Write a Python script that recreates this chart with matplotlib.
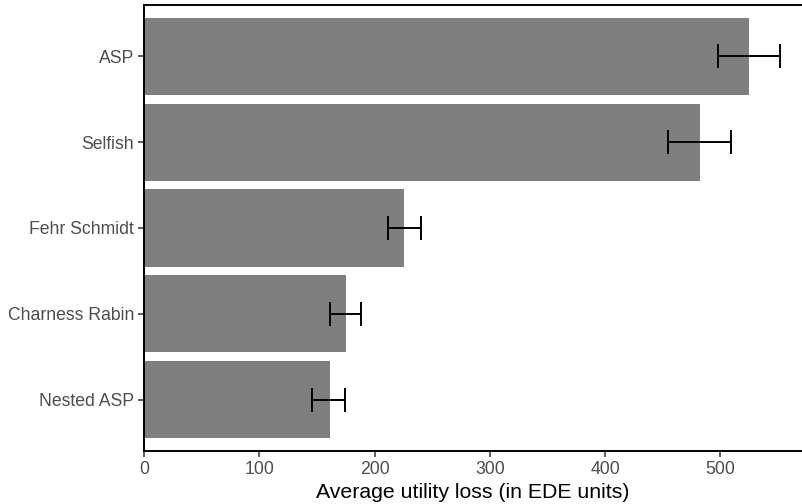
import matplotlib.pyplot as plt
import numpy as np

plt.rcParams['font.family'] = ['Liberation Sans', 'DejaVu Sans']

# models listed bottom to top
models = ['Nested ASP', 'Charness Rabin', 'Fehr Schmidt', 'Selfish', 'ASP']
mean_loss = [161, 175.5, 226, 482.5, 525]
err_low = [146, 161, 211.5, 455, 498]
err_high = [174.5, 188.5, 240, 509.5, 551.5]

fig = plt.figure(figsize=(8.02, 5.04), dpi=100)
ax = fig.add_axes([144/802, (504-451)/504, (801-144)/802, (451-5)/504])

y = np.arange(1, len(models)+1)
ax.barh(y, mean_loss, height=0.9, color='#7F7F7F', zorder=1)

lo = np.array(mean_loss) - np.array(err_low)
hi = np.array(err_high) - np.array(mean_loss)
ax.errorbar(mean_loss, y, xerr=[lo, hi], fmt='none', ecolor='black',
            elinewidth=1.4, capsize=8.3, capthick=1.4, zorder=2)

ax.set_xlim(0, 570)
ax.set_ylim(0.4, 5.6)
ax.set_yticks(y)
ax.set_yticklabels(models)
ax.set_xticks([0, 100, 200, 300, 400, 500])

ax.spines['right'].set_visible(False)
for s in ['left', 'bottom', 'top']:
    ax.spines[s].set_linewidth(1.4)
    ax.spines[s].set_color('black')

ax.tick_params(axis='both', length=4, width=1.1, color='#333333',
               labelcolor='#4D4D4D', labelsize=12.7, pad=3)
ax.set_xlabel('Average utility loss (in EDE units)', fontsize=15.3,
              color='black', labelpad=4)

fig.savefig('out.png', dpi=100)
